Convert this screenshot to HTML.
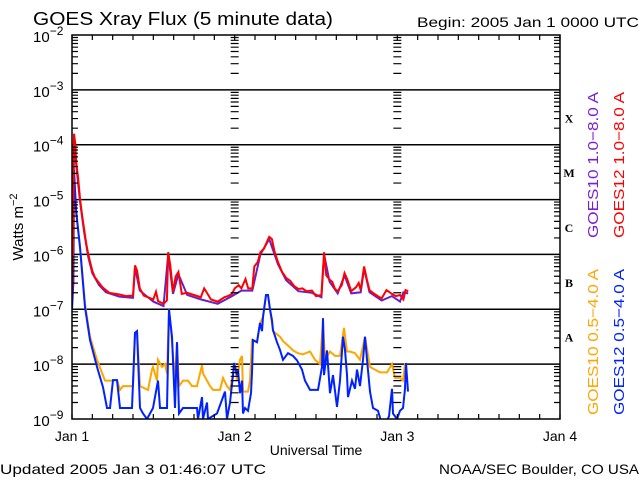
<!DOCTYPE html>
<html><head><meta charset="utf-8"><style>
html,body{margin:0;padding:0;background:#fff;}
svg{display:block;font-family:"Liberation Sans",sans-serif;}
</style></head><body>
<svg id="chart" width="640" height="480" viewBox="0 0 640 480" xmlns="http://www.w3.org/2000/svg">
<rect width="640" height="480" fill="#fff"/>
<text x="33" y="25" font-size="18" fill="#000" textLength="300" lengthAdjust="spacingAndGlyphs">GOES Xray Flux (5 minute data)</text>
<text x="417" y="27" font-size="14" fill="#000" textLength="222" lengthAdjust="spacingAndGlyphs">Begin:  2005 Jan 1 0000 UTC</text>
<text transform="translate(23,227) rotate(-90)" text-anchor="middle" font-size="15" fill="#000">Watts m<tspan dy="-6" font-size="11">−2</tspan></text>
<text x="316" y="455" text-anchor="middle" font-size="14" fill="#000">Universal Time</text>
<text x="0" y="474" font-size="14" fill="#000" textLength="266" lengthAdjust="spacingAndGlyphs">Updated 2005 Jan  3 01:46:07 UTC</text>
<text x="639" y="474" text-anchor="end" font-size="14" fill="#000" textLength="200" lengthAdjust="spacingAndGlyphs">NOAA/SEC Boulder, CO USA</text>
<g id="grid"></g>
<g id="series"></g>
<g id="axes"></g>
<g font-size="15">
<text transform="translate(598,165) rotate(-90)" text-anchor="middle" fill="#7a1fd6" textLength="146" lengthAdjust="spacingAndGlyphs">GOES10 1.0−8.0 A</text>
<text transform="translate(624,165) rotate(-90)" text-anchor="middle" fill="#ff0000" textLength="146" lengthAdjust="spacingAndGlyphs">GOES12 1.0−8.0 A</text>
<text transform="translate(598,342) rotate(-90)" text-anchor="middle" fill="#ffa500" textLength="146" lengthAdjust="spacingAndGlyphs">GOES10 0.5−4.0 A</text>
<text transform="translate(624,342) rotate(-90)" text-anchor="middle" fill="#0022ff" textLength="146" lengthAdjust="spacingAndGlyphs">GOES12 0.5−4.0 A</text>
</g>
</svg>
<script>
const dayLabels = ["Jan 1","Jan 2","Jan 3","Jan 4"];
const decadeExps = [-2,-3,-4,-5,-6,-7,-8,-9];
const classLabels = ["X","M","C","B","A"];
const classExps = [-3.5,-4.5,-5.5,-6.5,-7.5];
const g12LongH = [0,0.2,0.3,0.5,0.6,0.9,1.2,1.5,1.8,2.1,2.4,2.7,3,3.4,4,4.5,5,5.5,7,8,9,9.3,9.6,10,10.6,12,12.4,12.7,13.5,14,14.2,14.5,14.9,15.3,15.7,16.2,17,18,19,19.5,20,20.5,21.5,22.5,23,23.6,24,24.6,25,25.6,26,26.6,26.9,27.4,27.8,28.3,28.8,29.1,29.5,29.9,30.4,31,31.6,32.2,32.8,33.4,34,34.6,35.4,36,36.8,37.2,37.5,38,38.4,38.8,39.2,39.8,40.2,40.6,41.2,41.9,42.3,42.6,43.1,43.5,43.9,44.6,45.1,45.7,46.4,47.2,47.8,48.4,48.9,49.2,49.6];
const g12LongLog = [-6.8,-5.5,-3.8,-4.0,-4.3,-4.6,-5.0,-5.3,-5.55,-5.8,-6.0,-6.15,-6.3,-6.42,-6.52,-6.6,-6.65,-6.7,-6.73,-6.76,-6.75,-6.2,-6.3,-6.62,-6.75,-6.82,-6.68,-6.85,-6.9,-6.84,-5.96,-6.2,-6.68,-6.4,-6.32,-6.72,-6.7,-6.74,-6.78,-6.62,-6.72,-6.82,-6.86,-6.78,-6.76,-6.72,-6.62,-6.56,-6.62,-6.45,-6.62,-6.62,-6.22,-6.14,-5.96,-5.9,-5.76,-5.68,-5.72,-5.96,-6.14,-6.32,-6.43,-6.48,-6.58,-6.63,-6.62,-6.67,-6.66,-6.76,-6.74,-5.96,-6.38,-6.46,-6.5,-6.63,-6.67,-6.56,-6.34,-6.45,-6.67,-6.6,-6.52,-6.65,-6.22,-6.45,-6.65,-6.72,-6.76,-6.8,-6.65,-6.72,-6.76,-6.74,-6.82,-6.65,-6.67];
const g10LongH = [0,0.3,0.6,1.2,1.8,2.4,3,4,5,7,9,9.3,10,12,13.5,14.2,14.9,15.7,17,19,21.5,23.6,25,26.6,27.8,29.1,30.4,31.6,33.4,35.4,36.8,37.2,38,39.2,40.2,41.2,42.6,43.1,43.9,45.7,47.2,48.4,48.9,49.6];
const g10LongLog = [-6.85,-3.85,-4.35,-5.05,-5.6,-6.05,-6.34,-6.56,-6.69,-6.77,-6.79,-6.24,-6.66,-6.86,-6.94,-6.0,-6.72,-6.36,-6.74,-6.82,-6.9,-6.76,-6.66,-6.66,-6.0,-5.72,-6.18,-6.47,-6.67,-6.7,-6.78,-6.0,-6.5,-6.71,-6.38,-6.71,-6.69,-6.26,-6.69,-6.84,-6.76,-6.86,-6.69,-6.71];
const g12ShortH = [0,0.2,0.3,0.6,1.18,1.92,2.66,3.69,4.57,5.16,5.61,6.05,6.64,7.08,8.85,9.29,9.59,10.03,10.48,11.07,11.95,12.69,12.98,14.02,14.31,14.75,15.2,15.49,15.79,16.38,18.44,18.59,19.18,19.33,19.92,20.07,21.39,22.57,22.87,23.31,23.75,23.9,24.34,24.49,24.79,25.08,25.23,25.52,25.97,26.41,26.56,26.7,27.29,27.74,28.03,28.18,28.62,28.92,29.21,29.51,29.65,30.24,30.69,31.13,31.87,32.61,33.2,33.93,34.38,35.11,36.29,36.88,37.03,37.18,37.62,38.06,38.51,39.1,39.54,39.98,40.28,40.57,40.72,41.31,41.75,42.05,42.49,42.93,43.23,43.52,43.97,44.41,45.15,45.74,46.18,46.77,47.21,47.36,47.95,48.39,48.83,49.13,49.28,49.57];
const g12ShortLog = [-7.0,-6.5,-4.46,-5.2,-5.87,-6.96,-7.56,-8.05,-8.42,-8.8,-8.8,-8.29,-8.29,-8.8,-8.8,-7.43,-7.4,-8.8,-8.9,-9.0,-8.8,-8.3,-8.8,-8.8,-7.0,-7.5,-8.8,-7.6,-8.9,-8.8,-8.8,-9.0,-8.6,-9.0,-8.7,-9.0,-8.9,-8.5,-9.0,-8.7,-8.2,-7.98,-8.2,-8.1,-8.53,-8.3,-8.9,-8.8,-8.85,-8.53,-8.16,-7.56,-7.6,-7.25,-7.4,-7.14,-6.74,-6.74,-7.0,-7.2,-7.38,-7.6,-7.74,-7.92,-7.8,-7.85,-7.93,-8.1,-8.3,-8.47,-8.47,-8.05,-7.16,-8.2,-7.75,-8.53,-8.2,-8.78,-8.3,-7.5,-7.74,-8.2,-8.6,-8.3,-8.45,-8.1,-8.4,-7.92,-7.5,-7.92,-8.5,-8.8,-8.85,-9.1,-9.1,-8.95,-8.45,-8.9,-9.0,-8.85,-8.8,-8.45,-7.98,-8.5];
const g10ShortH = [0,0.3,0.6,1.18,1.92,2.66,3.69,4.43,4.87,5.9,6.05,6.64,7.08,7.52,9.0,9.29,9.59,10.03,11.21,11.8,11.95,12.54,12.69,13.28,13.72,14.02,14.31,14.75,15.2,15.49,15.79,16.38,17.11,17.7,18.44,19.18,19.33,19.92,20.36,20.8,21.84,22.28,22.87,23.31,24.05,24.34,24.79,25.08,25.23,25.97,26.26,26.56,27.29,27.74,28.18,28.62,28.92,29.65,30.69,31.13,31.87,32.61,33.34,34.08,35.11,35.85,36.59,37.03,37.33,38.06,38.8,39.54,40.13,40.57,41.02,41.75,42.49,43.23,43.97,44.7,45.44,46.47,47.21,47.65,48.39,48.83,49.13,49.42];
const g10ShortLog = [-7.0,-4.5,-5.25,-5.85,-6.9,-7.5,-7.92,-8.16,-8.3,-8.3,-8.29,-8.29,-8.47,-8.4,-8.4,-7.43,-7.4,-8.4,-8.47,-8.1,-8.05,-8.3,-7.92,-8.05,-8.0,-8.17,-7.0,-7.6,-8.3,-7.6,-8.4,-8.3,-8.3,-8.4,-8.4,-8.02,-8.17,-8.3,-8.4,-8.47,-8.47,-8.25,-8.4,-8.47,-8.0,-8.3,-7.92,-7.85,-8.5,-8.5,-8.3,-7.56,-7.6,-7.25,-7.14,-6.74,-6.74,-7.4,-7.5,-7.58,-7.66,-7.75,-7.8,-7.82,-7.77,-7.92,-8.0,-7.2,-7.92,-7.77,-7.85,-7.85,-7.34,-7.77,-7.77,-7.8,-7.92,-7.5,-8.05,-8.1,-8.15,-8.15,-8.0,-8.25,-8.25,-8.3,-8.0,-8.0];

const PL=72, PR=560, PT=35, PB=419;
const NS="http://www.w3.org/2000/svg";
function xScale(h){ return PL + h/72*(PR-PL); }
function yScale(lg){ return PT + (-2 - lg)/7*(PB-PT); }
function mk(tag, attrs, parent){ const e=document.createElementNS(NS,tag); for(const k in attrs) e.setAttribute(k,attrs[k]); parent.appendChild(e); return e; }
const grid=document.getElementById('grid'), axes=document.getElementById('axes'), series=document.getElementById('series'), svg=document.getElementById('chart');

decadeExps.forEach(function(ex){
  if(ex===-2||ex===-9) return;
  const y=yScale(ex);
  const l=mk('line',{x1:PL,x2:PR,y1:y,y2:y,stroke:'#000','stroke-width':1.5},grid);
  
  
});
decadeExps.forEach(function(ex){
  const y=yScale(ex);
  const t=mk('text',{x:33,y:y+7,'font-size':15,fill:'#000'},axes);
  
  
  t.textContent='10';
  const s=mk('tspan',{dy:-7,'font-size':12},t); s.textContent='−'+(-ex);
});
let d='';
for(let ex=-9; ex<-2; ex++){
  for(let m=2;m<=9;m++){
    const y=yScale(ex+Math.log10(m));
    d+='M'+PL+' '+y+'h6M'+PR+' '+y+'h-6';
    [1,2].forEach(function(k){ const x=xScale(24*k); d+='M'+(x-4)+' '+y+'h8'; });
  }
}
for(let h=0; h<=72; h+=3){
  const x=xScale(h);
  d+='M'+x+' '+PB+'v-5M'+x+' '+PT+'v5';
}
const tk=mk('path',{d:d,stroke:'#000','stroke-width':1.2,fill:'none'},axes);


const fr=mk('rect',{x:PL,y:PT,width:PR-PL,height:PB-PT,fill:'none',stroke:'#000','stroke-width':1.5},axes);


dayLabels.forEach(function(lab,i){
  const t=mk('text',{x:xScale(24*i),y:441,'text-anchor':'middle','font-size':14,fill:'#000'},axes);
  
  
  t.textContent=lab;
});
classLabels.forEach(function(lab,i){
  const t=mk('text',{x:569,y:yScale(classExps[i])+5,'text-anchor':'middle','font-size':12,'font-weight':'bold','font-family':'Liberation Serif, serif',fill:'#000'},axes);
  
  
  t.textContent=lab;
});
const defs=mk('defs',{},svg);
const cp=mk('clipPath',{id:'pc'},defs);
mk('rect',{x:PL,y:PT,width:PR-PL,height:PB-PT},cp);
series.setAttribute('clip-path','url(#pc)');
function line(hs,ls,color,name){
  let p='';
  for(let i=0;i<hs.length;i++){ p+=(i?' L':'M')+xScale(hs[i]).toFixed(1)+' '+yScale(ls[i]).toFixed(1); }
  const e=mk('path',{d:p,stroke:color,'stroke-width':2,fill:'none','stroke-linejoin':'miter'},series);
  
  
}
line(g10ShortH,g10ShortLog,'#ffa500','series-goes10-short');
line(g12ShortH,g12ShortLog,'#0022ff','series-goes12-short');
line(g10LongH,g10LongLog,'#6a1fc8','series-goes10-long');
line(g12LongH,g12LongLog,'#ff0000','series-goes12-long');
</script>
</body></html>
